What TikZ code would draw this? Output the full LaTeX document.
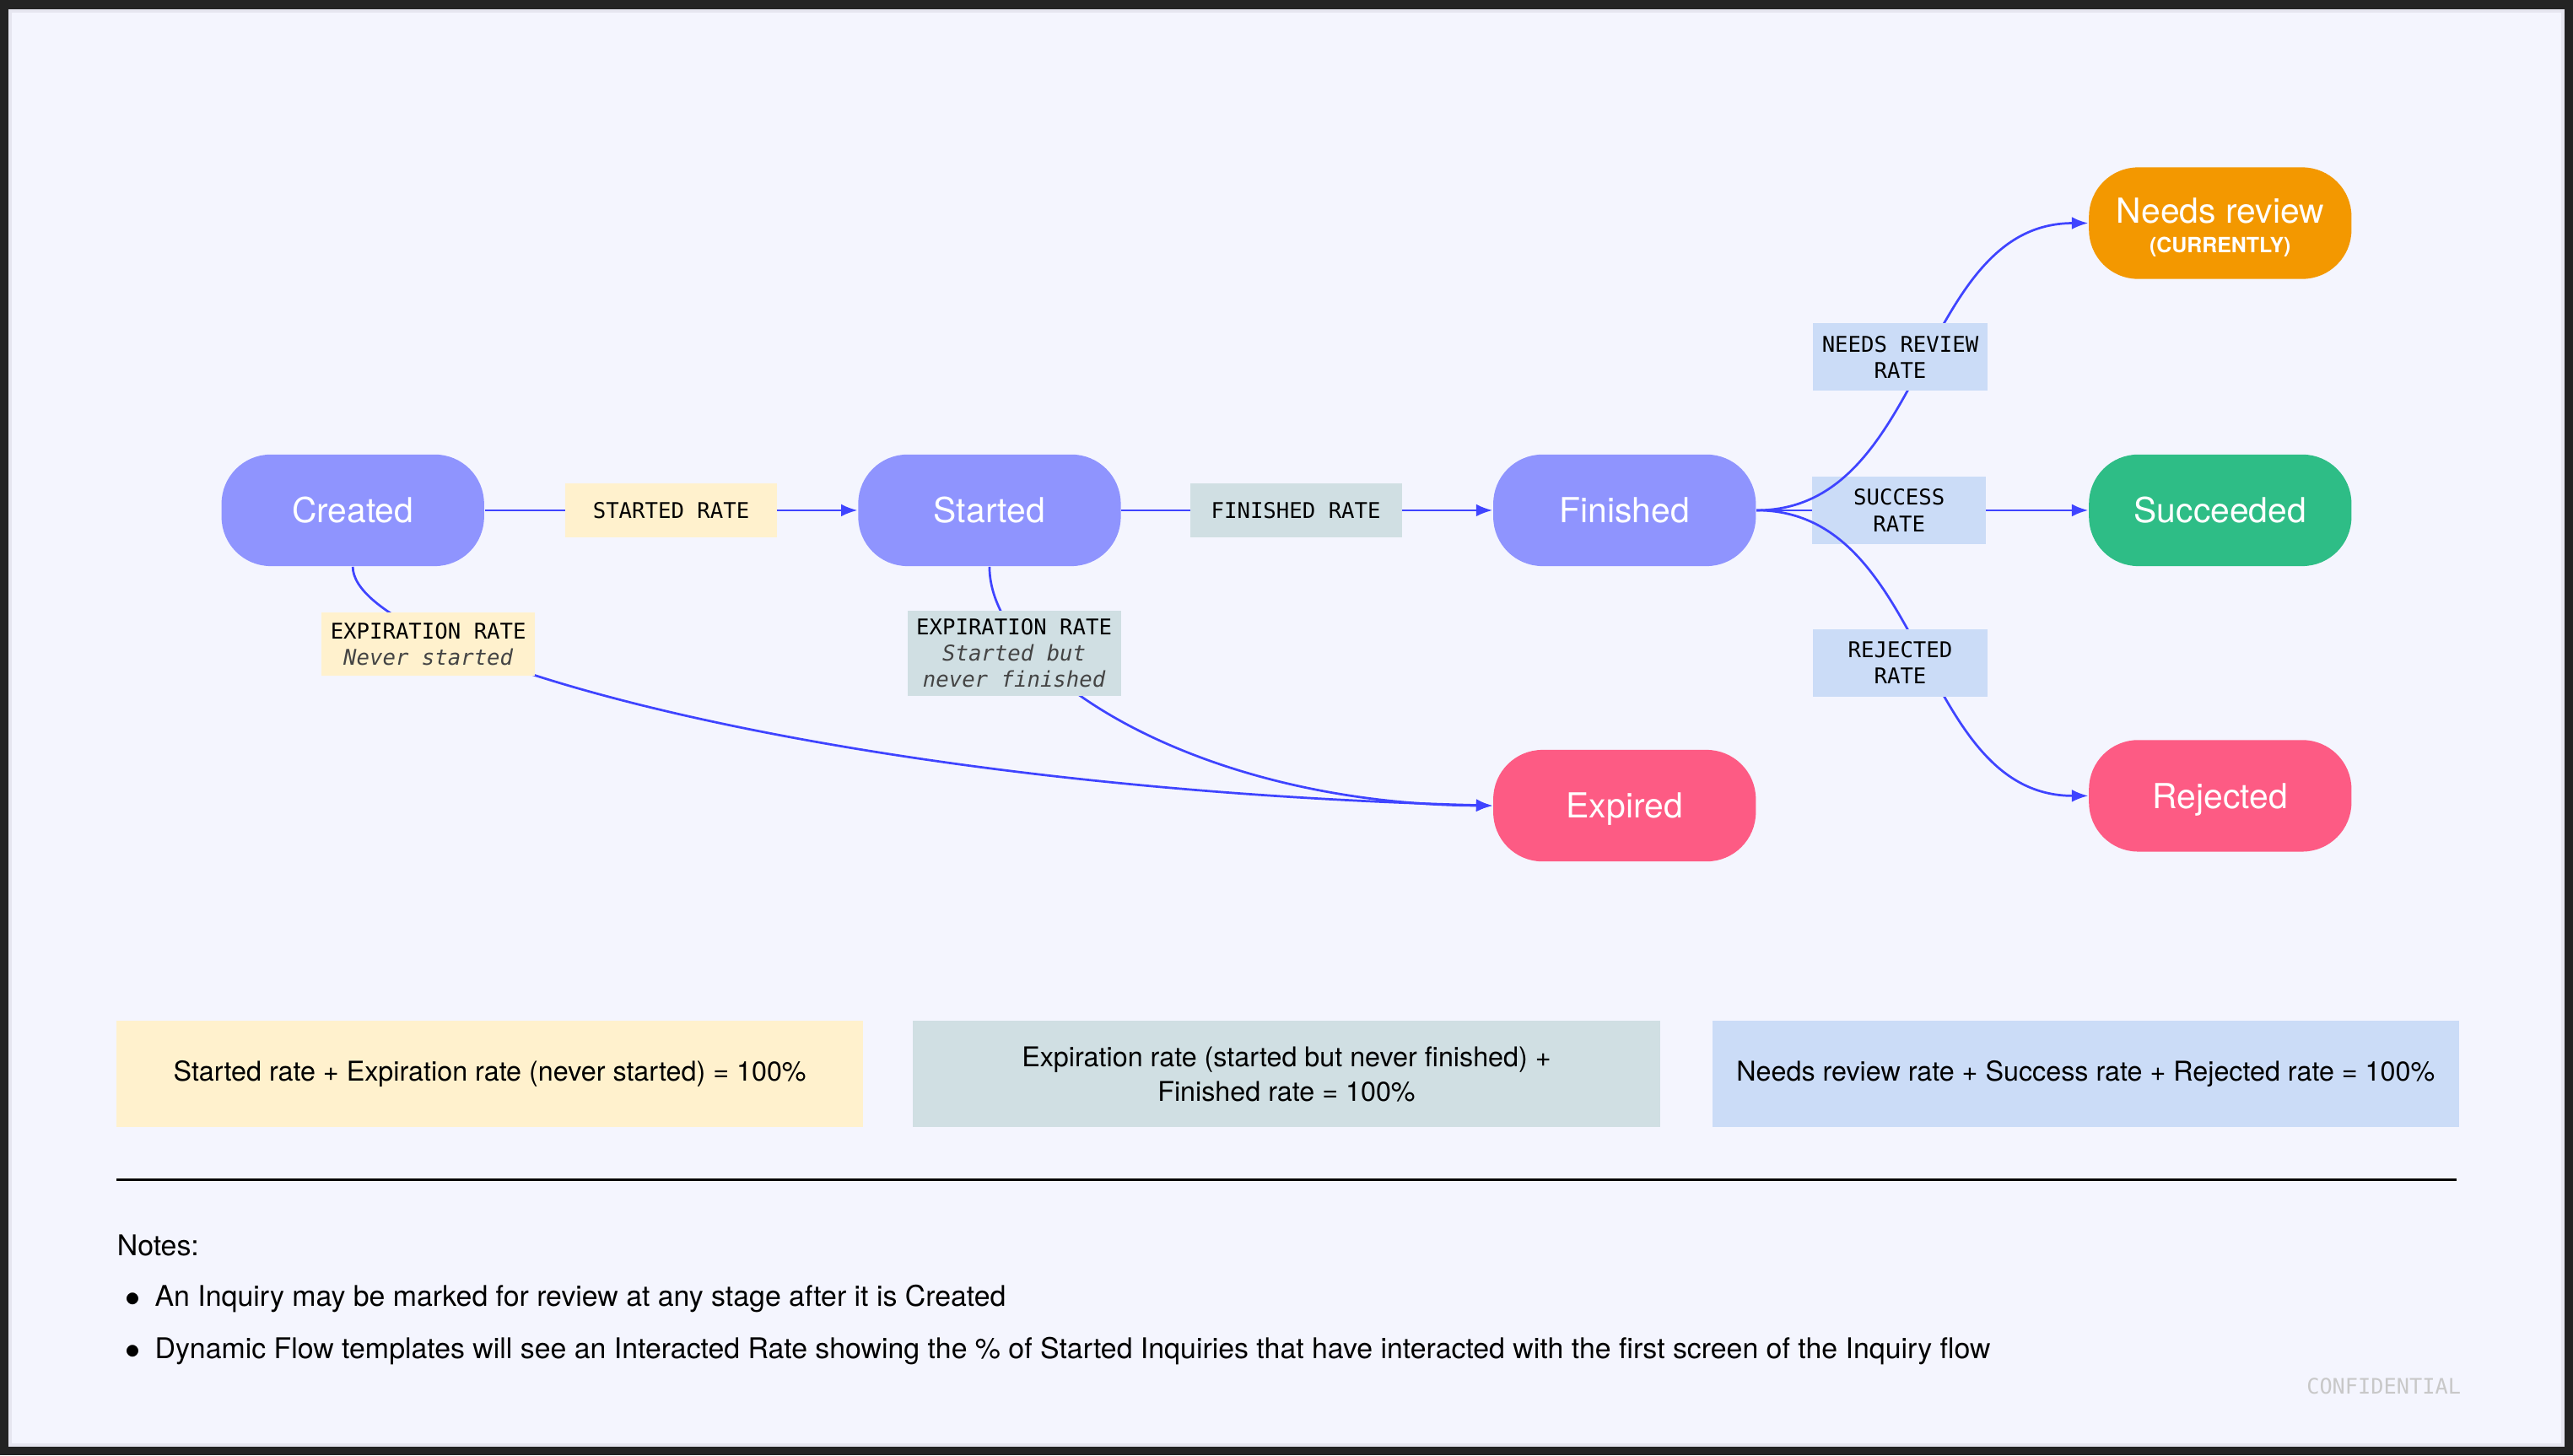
\documentclass[tikz,border=0pt]{standalone}
\usepackage{fontspec}
\setmainfont{TeX Gyre Heros}
\newfontfamily\ratemono{DejaVu Sans Mono}
\usetikzlibrary{arrows.meta}
\definecolor{FrameDark}{HTML}{232323}
\definecolor{PanelLight}{HTML}{F4F5FE}
\definecolor{PanelEdge}{HTML}{E6E6F0}
\definecolor{StatePurple}{HTML}{8F94FE}
\definecolor{StateOrange}{HTML}{F39800}
\definecolor{StateGreen}{HTML}{2EBD86}
\definecolor{StatePink}{HTML}{FD5B84}
\definecolor{FlowBlue}{HTML}{3F44FF}
\definecolor{RateYellow}{HTML}{FFF1CD}
\definecolor{RateGrey}{HTML}{D0DFE3}
\definecolor{RateBlue}{HTML}{CBDCF7}
\definecolor{NoteGrey}{HTML}{444444}
\definecolor{StampGrey}{HTML}{C8C8C8}

\tikzset{
  state/.style={rounded corners=15pt, minimum width=80pt, minimum height=34pt,
    inner sep=0pt, text=white, align=center, text height=7.6pt, text depth=0pt,
    font=\fontsize{10.5}{9}\selectfont},
  rate/.style={inner sep=0pt, align=center, text=black,
    font=\ratemono\fontsize{6.6}{8}\selectfont},
  ratewide/.style={rate, minimum width=64.5pt, minimum height=16.5pt},
  ratenarrow/.style={rate, fill=RateBlue, minimum width=53pt, minimum height=20.5pt},
  flow/.style={draw=FlowBlue, line width=0.7pt, -{Latex[length=5pt,width=3.8pt]}},
  sumbox/.style={minimum width=227.5pt, minimum height=32.5pt, inner sep=0pt,
    align=center, font=\fontsize{8.3}{10.5}\selectfont},
  notetext/.style={inner sep=0pt, anchor=base west, font=\fontsize{8.7}{10.5}\selectfont}
}

\begin{document}
\begin{tikzpicture}[x=0.5pt, y=-0.5pt]
    \fill[FrameDark] (0,0) rectangle (1568,887);
    \filldraw[fill=PanelLight, draw=PanelEdge, line width=1pt] (6,6.6) rectangle (1562,880.5);

    \node[state, fill=StatePurple] (created) at (215,311) {Created};
    \node[state, fill=StatePurple] (started) at (603,311) {Started};
    \node[state, fill=StatePurple] (finished) at (990,311) {Finished};
    \node[state, fill=StatePink] (expired) at (990,491) {Expired};
    \node[state, fill=StateOrange, text height=18pt] (needsreview) at (1353,136)
      {Needs review\\{\fontsize{6.4}{7}\selectfont\bfseries (CURRENTLY)}};
    \node[state, fill=StateGreen] (succeeded) at (1353,311) {Succeeded};
    \node[state, fill=StatePink] (rejected) at (1353,485) {Rejected};

    \draw[flow] (created) -- node[ratewide, fill=RateYellow] (startedrate) {STARTED RATE} (started);
    \draw[flow] (started) -- node[ratewide, fill=RateGrey, pos=0.47] (finishedrate) {FINISHED RATE} (finished);
    \draw[flow] (finished) -- node[ratenarrow, pos=0.43] (successrate) {SUCCESS\\RATE} (succeeded);

    \draw[flow] (created.south) .. controls (215,398) and (500,480) .. (expired.west);
    \draw[flow] (started.south) .. controls (603,410) and (730,490) .. (expired.west);
    \draw[flow] (finished.east) to[out=0, in=180] (needsreview.west);
    \draw[flow] (finished.east) to[out=0, in=180] (rejected.west);

    \node[rate, fill=RateYellow, minimum width=65pt, minimum height=19.5pt] (neverstarted) at (261,392.5)
      {EXPIRATION RATE\\\textcolor{NoteGrey}{\itshape Never started}};
    \node[rate, fill=RateGrey, minimum width=65pt, minimum height=26pt] (neverfinished) at (618,398)
      {EXPIRATION RATE\\\textcolor{NoteGrey}{\itshape Started but}\\\textcolor{NoteGrey}{\itshape never finished}};
    \node[ratenarrow] (needsreviewrate) at (1158,217.5) {NEEDS REVIEW\\RATE};
    \node[ratenarrow] (rejectedrate) at (1158,404) {REJECTED\\RATE};

    \node[sumbox, fill=RateYellow] (startsum) at (298.5,654.5)
      {Started rate + Expiration rate (never started) = 100\%};
    \node[sumbox, fill=RateGrey] (finishsum) at (784,654.5)
      {Expiration rate (started but never finished) +\\Finished rate = 100\%};
    \node[sumbox, fill=RateBlue] (outcomesum) at (1271,654.5)
      {Needs review rate + Success rate + Rejected rate = 100\%};

    \draw[black, line width=0.6pt] (71,719) -- (1497,719);

    \node[notetext] (notes) at (71,765) {Notes:};
    \node[notetext] (noteone) at (76,796)
      {\makebox[9pt][l]{$\bullet$}An Inquiry may be marked for review at any stage after it is Created};
    \node[notetext] (notetwo) at (76,828)
      {\makebox[9pt][l]{$\bullet$}Dynamic Flow templates will see an Interacted Rate showing the \% of Started Inquiries that have interacted with the first screen of the Inquiry flow};

    \node[inner sep=0pt, anchor=east, text=StampGrey, font=\ratemono\fontsize{6.5}{8}\selectfont] (stamp) at (1500,845) {CONFIDENTIAL};
\end{tikzpicture}
\end{document}
